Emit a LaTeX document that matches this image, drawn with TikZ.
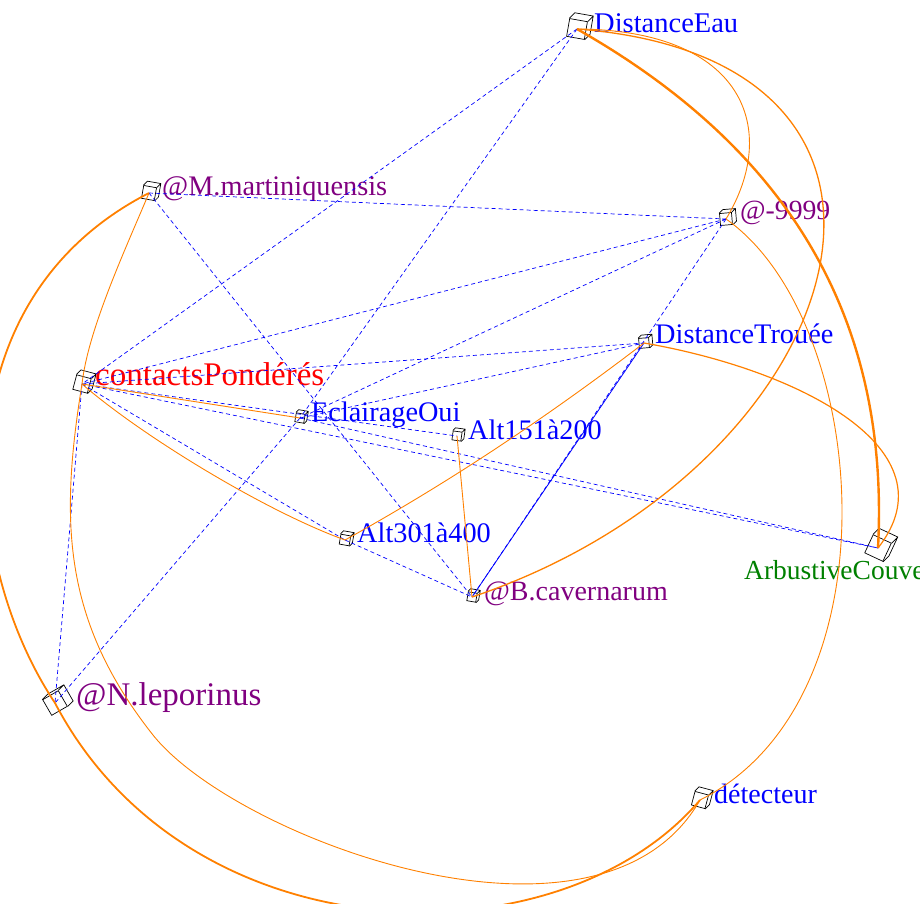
\documentclass[tikz,border=0pt]{standalone}
\usepackage{fontspec}
\setmainfont{Liberation Serif}
\usetikzlibrary{calc,positioning}
\definecolor{lien}{RGB}{255,128,0}
\definecolor{violet}{RGB}{128,0,128}
\definecolor{vert}{RGB}{0,128,0}
\tikzset{
  cubeface/.style={draw, line width=0.7pt, inner sep=0pt, minimum size=#1},
  arete/.style={line width=0.7pt},
  pointille/.style={blue, line width=0.7pt, dash pattern=on 4pt off 3pt},
  plein/.style={blue, line width=0.8pt},
  lienorange/.style={lien, line width=#1},
  lienorange/.default=0.9pt,
  lbl/.style={inner sep=0pt, anchor=base west, font=\fontsize{#1}{#1}\selectfont},
  lbl/.default=28.3
}
\begin{document}
\begin{tikzpicture}[x=1pt,y=-1pt]
\useasboundingbox (0,0) rectangle (920,903);
% les cubes
\foreach \n/\x/\y/\s/\r in {eau/577/29/18/-10, mm/149/193/13/-10, m9999/726/219/12/5,
    dt/644/343/10/5, cp/82/384/15/-15, ecl/300/418/9/-10, a151/457/436/9/-8,
    a301/345/540/10/-10, bc/472/597/9/-10, arb/878/548/20/-25, nl/55/703/18/30,
    det/700/800/14/-15}{
  \node[cubeface=\s pt, rotate=\r] (\n) at (\x,\y) {};
  \draw[arete] (\n.north west) -- ($(\n.north west)+(0.3*\s,-0.3*\s)$)
    -- ($(\n.north east)+(0.3*\s,-0.3*\s)$) -- ($(\n.south east)+(0.3*\s,-0.3*\s)$)
    -- (\n.south east) (\n.north east) -- ($(\n.north east)+(0.3*\s,-0.3*\s)$);
}
% les etiquettes
\node[lbl=28.5, blue, right=17pt of eau.center, anchor=base west, yshift=-3pt] (tEau) {DistanceEau};
\node[lbl, violet, right=13pt of mm.center, anchor=base west, yshift=-2pt] (tMm) {@M.martiniquensis};
\node[lbl=27.7, violet, right=14pt of m9999.center, anchor=base west] (tM9999) {@-9999};
\node[lbl, blue, right=11pt of dt.center, anchor=base west] (tDt) {DistanceTrouée};
\node[lbl=33, red, right=13pt of cp.center, anchor=base west, yshift=-1pt] (tCp) {contactsPondérés};
\node[lbl, blue, right=11pt of ecl.center, anchor=base west, yshift=-3pt] (tEcl) {EclairageOui};
\node[lbl, blue, right=11pt of a151.center, anchor=base west, yshift=-3pt] (tA151) {Alt151à200};
\node[lbl, blue, right=12pt of a301.center, anchor=base west, yshift=-2pt] (tA301) {Alt301à400};
\node[lbl=28, violet, right=12pt of bc.center, anchor=base west, yshift=-3pt] (tBc) {@B.cavernarum};
\node[lbl=33, violet, right=21pt of nl.center, anchor=base west, yshift=-2pt] (tNl) {@N.leporinus};
\node[lbl=28, blue, right=14pt of det.center, anchor=base west, yshift=-3pt] (tDet) {détecteur};
\node[lbl=27.5, vert, below=31pt of arb.center, anchor=base west, xshift=-134pt] (tArb) {ArbustiveCouve};
% liens en pointilles
\draw[pointille] (eau.center) -- (cp.center);
\draw[pointille] (eau.center) -- (ecl.center);
\draw[pointille] (mm.center) -- (m9999.center);
\draw[pointille] (mm.center) -- (bc.center);
\draw[pointille] (m9999.center) -- (cp.center);
\draw[pointille] (m9999.center) -- (ecl.center);
\draw[pointille] (m9999.center) -- (bc.center);
\draw[pointille] (cp.center) -- (dt.center);
\draw[pointille] (ecl.center) -- (dt.center);
\draw[pointille] (cp.center) -- (a151.center);
\draw[pointille] (cp.center) -- (arb.center);
\draw[pointille] (ecl.center) -- (arb.center);
\draw[pointille] (cp.center) -- (a301.center);
\draw[pointille] (a301.center) -- (bc.center);
\draw[pointille] (cp.center) -- (nl.center);
\draw[pointille] (ecl.center) -- (nl.center);
\draw[plein] (dt.center) -- (bc.center);
% liens orange
\draw[lienorange] (cp.center) -- (ecl.center);
\draw[lienorange] (a151.center) -- (bc.center);
\draw[lienorange] (cp.center) .. controls (142,436) and (265,511) .. (a301.center);
\draw[lienorange] (a301.center) .. controls (450,482) and (550,415) .. (dt.center);
\draw[lienorange=1.2pt] (dt.center) .. controls (800,370) and (955,450) .. (arb.center);
\draw[lienorange] (eau.center) .. controls (745,30) and (780,130) .. (m9999.center);
\draw[lienorange=1.3pt] (eau.center) .. controls (980,60) and (850,470) .. (bc.center);
\draw[lienorange=2.4pt] (eau.center) .. controls (790,150) and (890,320) .. (arb.center);
\draw[lienorange] (m9999.center) .. controls (870,320) and (900,700) .. (det.center);
\draw[lienorange=1.8pt] (mm.center) .. controls (-60,300) and (-40,560) .. (nl.center)
  .. controls (190,960) and (560,965) .. (det.center);
\draw[lienorange] (mm.center) .. controls (125,250) and (88,330) .. (cp.center)
  .. controls (60,520) and (62,620) .. (153,735) .. controls (235,838) and (600,975) .. (det.center);
\end{tikzpicture}
\end{document}
